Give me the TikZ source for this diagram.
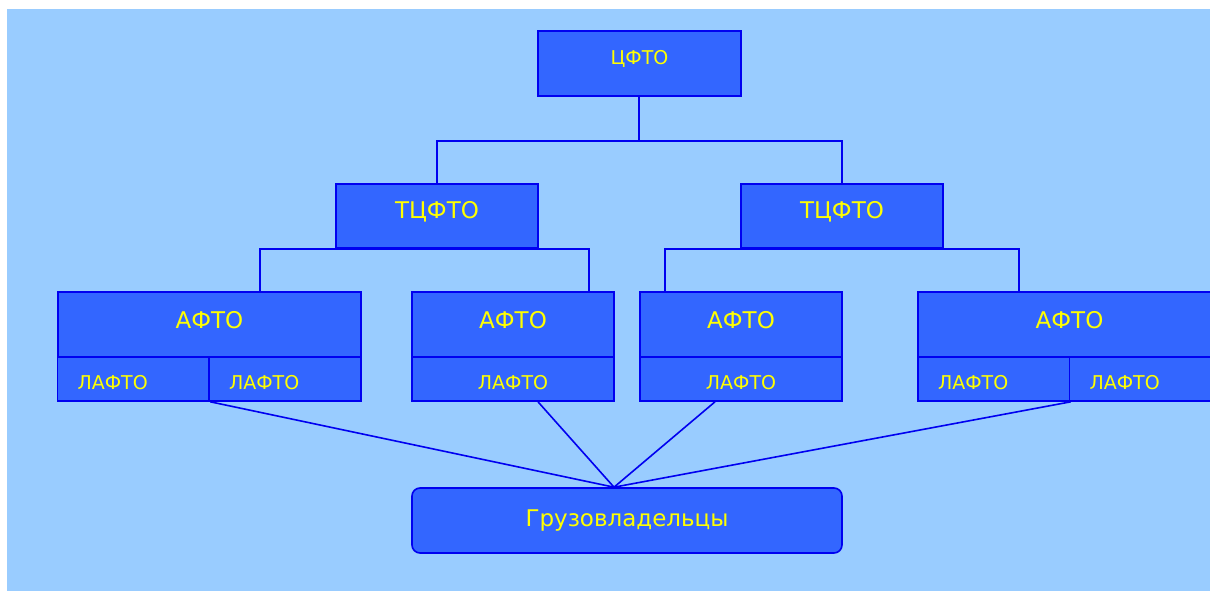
\documentclass[tikz,border=0pt]{standalone}
\usepackage{fontspec}
\setmainfont{DejaVu Sans}
\usepackage{tikz}
\definecolor{fonblue}{HTML}{99CCFF}
\definecolor{boxblue}{HTML}{3366FF}
\definecolor{lineblue}{HTML}{0000F0}
\definecolor{txtyellow}{HTML}{FFFF00}
\tikzstyle{orgbox} = [draw=lineblue, line width=1.6pt, rectangle, fill=boxblue, text=txtyellow, inner sep=0pt, minimum height=65pt]
\tikzstyle{bigtxt} = [font=\fontsize{23}{27}\selectfont]
\tikzstyle{smalltxt} = [font=\fontsize{19}{22}\selectfont]
\tikzstyle{subbox} = [orgbox, smalltxt, minimum height=44pt, text height=20.9pt, text depth=0pt]
\tikzstyle{halfbox} = [subbox, minimum width=152pt, text width=112pt, inner xsep=20pt, align=left]
\tikzstyle{link} = [draw=lineblue, line width=1.6pt]

\begin{document}
\begin{tikzpicture}[x=1pt, y=-1pt]
	\useasboundingbox (0,0) rectangle (1210,591);
	\fill [fonblue] (7,9) rectangle (1210,591);
	% верхний уровень
	\node [orgbox, smalltxt, minimum width=203pt, text height=13.9pt, text depth=11pt] (cfto) at (639.5,63.5) {ЦФТО};
	\node [orgbox, bigtxt, minimum width=202pt, minimum height=64pt, text height=16.8pt, text depth=12pt] (tcftoa) at (437,216) {ТЦФТО};
	\node [orgbox, bigtxt, minimum width=202pt, minimum height=64pt, text height=16.8pt, text depth=12pt] (tcftob) at (842,216) {ТЦФТО};
	% АФТО
	\node [orgbox, bigtxt, minimum width=303pt, text height=16.8pt, text depth=9pt] (aftoa) at (209.5,324.5) {АФТО};
	\node [orgbox, bigtxt, minimum width=202pt, text height=16.8pt, text depth=9pt] (aftob) at (513,324.5) {АФТО};
	\node [orgbox, bigtxt, minimum width=202pt, text height=16.8pt, text depth=9pt] (aftoc) at (741,324.5) {АФТО};
	\node [orgbox, bigtxt, minimum width=303pt, text height=16.8pt, text depth=9pt] (aftod) at (1069.5,324.5) {АФТО};
	% ЛАФТО
	\node [halfbox] (laftoa1) at (133.5,379) {ЛАФТО};
	\node [halfbox] (laftoa2) at (285,379) {ЛАФТО};
	\node [subbox, minimum width=202pt] (laftob) at (513,379) {ЛАФТО};
	\node [subbox, minimum width=202pt] (laftoc) at (741,379) {ЛАФТО};
	\node [halfbox] (laftod1) at (994,379) {ЛАФТО};
	\node [halfbox] (laftod2) at (1145.5,379) {ЛАФТО};
	\node [orgbox, bigtxt, minimum width=430pt, rounded corners=8pt, text height=16.8pt, text depth=4.4pt] (gruz) at (627,520.5) {Грузовладельцы};
	% связи
	\draw [link] ([xshift=-0.5pt]cfto.south) -- ++(0,44) coordinate (razv);
	\draw [link] (tcftoa.north) |- (razv) -| (tcftob.north);
	\draw [link] ([xshift=50.5pt]aftoa.north) |- (tcftoa.south) -| ([xshift=76pt]aftob.north);
	\draw [link] ([xshift=-76pt]aftoc.north) |- (tcftob.south) -| ([xshift=-50.5pt]aftod.north);
	\coordinate (hub) at ([xshift=-13pt]gruz.north);
	\draw [link] (laftoa1.south east) -- (hub);
	\draw [link] ([xshift=25pt]laftob.south) -- (hub);
	\draw [link] ([xshift=-26pt]laftoc.south) -- (hub);
	\draw [link] (laftod1.south east) -- (hub);
\end{tikzpicture}
\end{document}
